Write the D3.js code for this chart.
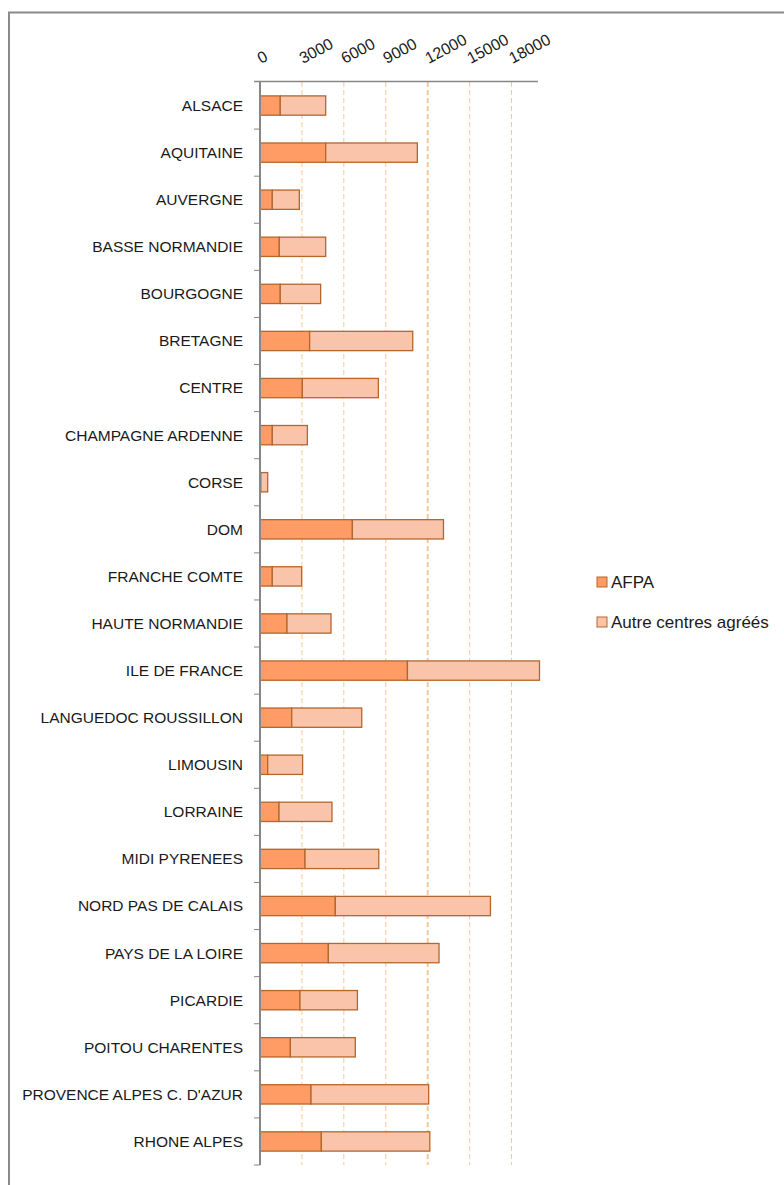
<!DOCTYPE html>
<html>
<head>
<meta charset="utf-8">
<script src="https://cdn.jsdelivr.net/npm/d3@7"></script>
<style>
  body { margin: 0; background: #fff; }
  svg { display: block; }
  text { font-family: "Liberation Sans Narrow", "Arial Narrow", "Liberation Sans", sans-serif; fill: #1a1a1a; }
</style>
</head>
<body>
<svg id="chart" width="784" height="1185"></svg>
<script>
// regions (categories), top to bottom
var regions = ["ALSACE", "AQUITAINE", "AUVERGNE", "BASSE NORMANDIE", "BOURGOGNE", "BRETAGNE",
  "CENTRE", "CHAMPAGNE ARDENNE", "CORSE", "DOM", "FRANCHE COMTE", "HAUTE NORMANDIE",
  "ILE DE FRANCE", "LANGUEDOC ROUSSILLON", "LIMOUSIN", "LORRAINE", "MIDI PYRENEES",
  "NORD PAS DE CALAIS", "PAYS DE LA LOIRE", "PICARDIE", "POITOU CHARENTES",
  "PROVENCE ALPES C. D'AZUR", "RHONE ALPES"];
// AFPA
var afpa = [1450, 4700, 880, 1380, 1450, 3550, 3030, 880, 60, 6610, 880, 1930,
  10550, 2270, 550, 1360, 3220, 5390, 4890, 2860, 2170, 3650, 4390];
// Autre centres agréés
var autres = [3250, 6560, 1935, 3320, 2890, 7380, 5440, 2510, 490, 6520, 2100, 3150,
  9450, 5010, 2500, 3790, 5280, 11100, 7920, 4110, 4650, 8420, 7760];
var xTicks = [0, 3000, 6000, 9000, 12000, 15000, 18000];
var seriesNames = ["AFPA", "Autre centres agréés"];
var seriesColors = ["#ff9c66", "#f9c4a9"];
var strokeColor = "#b5662b";

var svg = d3.select("#chart");

// outer frame
svg.append("path")
  .attr("d", "M9,1185 V12.5 H784")
  .attr("fill", "none")
  .attr("stroke", "#8a8a8a")
  .attr("stroke-width", 2);

var x = d3.scaleLinear().domain([0, 20000]).range([260, 539.5]);
var y = d3.scaleBand().domain(regions).range([82, 1165])
  .paddingInner(0.59).paddingOuter(0.295);

// gridlines
svg.append("g")
  .selectAll("line")
  .data(xTicks.slice(1))
  .enter().append("line")
  .attr("x1", function(d) { return x(d); })
  .attr("x2", function(d) { return x(d); })
  .attr("y1", 82)
  .attr("y2", 1165)
  .attr("stroke", "#fbc797")
  .attr("stroke-width", function(d) { return d === 12000 ? 2 : 1; })
  .attr("stroke-dasharray", "5,3");

// stacked bars
var rows = regions.map(function(r, i) {
  return { region: r, a: afpa[i], b: autres[i] };
});

var bars = svg.append("g").selectAll("g")
  .data(rows)
  .enter().append("g");

bars.append("rect")
  .attr("x", x(0))
  .attr("y", function(d) { return y(d.region); })
  .attr("width", function(d) { return x(d.a) - x(0); })
  .attr("height", y.bandwidth())
  .attr("fill", seriesColors[0])
  .attr("stroke", strokeColor)
  .attr("stroke-width", 1.3);

bars.append("rect")
  .attr("x", function(d) { return x(d.a); })
  .attr("y", function(d) { return y(d.region); })
  .attr("width", function(d) { return x(d.a + d.b) - x(d.a); })
  .attr("height", y.bandwidth())
  .attr("fill", seriesColors[1])
  .attr("stroke", strokeColor)
  .attr("stroke-width", 1.3);

// category axis (left)
svg.append("line")
  .attr("x1", 260).attr("x2", 260)
  .attr("y1", 81).attr("y2", 1165)
  .attr("stroke", "#868686").attr("stroke-width", 2);

var step = y.step();
svg.append("g").selectAll("line")
  .data(d3.range(1, regions.length + 1))
  .enter().append("line")
  .attr("x1", 254).attr("x2", 260)
  .attr("y1", function(i) { return 82 + i * step; })
  .attr("y2", function(i) { return 82 + i * step; })
  .attr("stroke", "#868686").attr("stroke-width", 1);

svg.append("g").selectAll("text")
  .data(regions)
  .enter().append("text")
  .attr("x", 243)
  .attr("y", function(d) { return y(d) + y.bandwidth() / 2; })
  .attr("dy", "0.35em")
  .attr("text-anchor", "end")
  .style("font-size", "15.5px")
  .text(function(d) { return d; });

// value axis (top)
svg.append("line")
  .attr("x1", 254).attr("x2", 538)
  .attr("y1", 81.5).attr("y2", 81.5)
  .attr("stroke", "#868686").attr("stroke-width", 1.5);

svg.append("g").selectAll("text")
  .data(xTicks)
  .enter().append("text")
  .attr("transform", function(d) { return "translate(" + (x(d) + 1) + ",64) rotate(-28)"; })
  .attr("text-anchor", "start")
  .style("font-size", "16px")
  .text(function(d) { return d; });

// legend
var legend = svg.append("g").selectAll("g")
  .data(seriesNames)
  .enter().append("g")
  .attr("transform", function(d, i) { return "translate(597," + (577 + i * 40) + ")"; });

legend.append("rect")
  .attr("width", 10).attr("height", 10)
  .attr("fill", function(d, i) { return seriesColors[i]; })
  .attr("stroke", strokeColor).attr("stroke-width", 1);

legend.append("text")
  .attr("x", 14).attr("y", 5)
  .attr("dy", "0.35em")
  .style("font-size", "17px")
  .text(function(d) { return d; });
</script>
</body>
</html>
